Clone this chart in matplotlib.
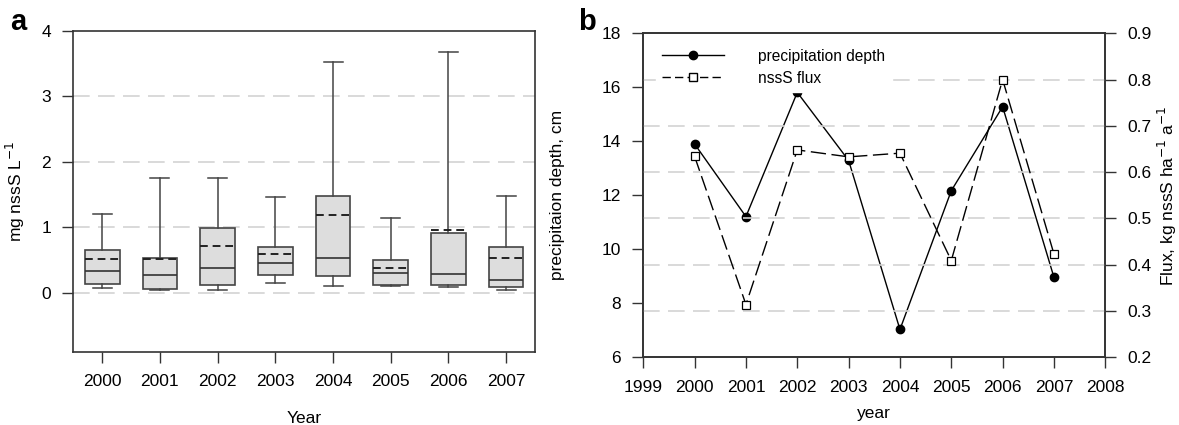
import matplotlib
matplotlib.use("Agg")
import matplotlib.pyplot as plt
from matplotlib.lines import Line2D

plt.rcParams['font.family'] = ['Liberation Sans', 'DejaVu Sans']

# panel a: box plot stats (mg nssS / L)
years = [2000, 2001, 2002, 2003, 2004, 2005, 2006, 2007]
whis_lo = [0.072, 0.046, 0.036, 0.143, 0.098, 0.098, 0.082, 0.041]
q1 = [0.128, 0.061, 0.122, 0.265, 0.260, 0.122, 0.113, 0.092]
medians = [0.331, 0.275, 0.382, 0.458, 0.525, 0.296, 0.290, 0.190]
means = [0.515, 0.510, 0.713, 0.591, 1.186, 0.382, 0.962, 0.525]
q3 = [0.657, 0.530, 0.983, 0.698, 1.481, 0.494, 0.916, 0.693]
whis_hi = [1.206, 1.751, 1.755, 1.466, 3.520, 1.145, 3.675, 1.476]

# panel b
years_b = [2000, 2001, 2002, 2003, 2004, 2005, 2006, 2007]
precip = [13.90, 11.21, 15.81, 13.29, 7.03, 12.17, 15.28, 8.96]
flux = [0.634, 0.314, 0.648, 0.633, 0.641, 0.409, 0.800, 0.423]

fig = plt.figure(figsize=(11.79, 4.25), dpi=100)
axcol = '#333333'
fs = 12.5

# ---- panel a ----
ax = fig.add_axes([0.0622, 0.1725, 0.3916, 0.7553])
stats = []
for i in range(len(years)):
    stats.append(dict(med=medians[i], q1=q1[i], q3=q3[i], whislo=whis_lo[i],
                      whishi=whis_hi[i], mean=means[i], fliers=[]))
ax.bxp(stats, positions=years, widths=0.6, patch_artist=True,
       showmeans=True, meanline=True, manage_ticks=False,
       boxprops=dict(facecolor='#dddddd', edgecolor='#444444', linewidth=1.2),
       medianprops=dict(color='#333333', linewidth=1.2),
       meanprops=dict(color='#222222', linestyle=(0, (4, 2.5)), linewidth=1.4),
       whiskerprops=dict(color='#444444', linewidth=1.1),
       capprops=dict(color='#444444', linewidth=1.1), capwidths=0.33)
ax.set_xlim(1999.5, 2007.5)
ax.set_ylim(-0.9, 4)
ax.set_xticks(years)
ax.set_yticks([0, 1, 2, 3, 4])
for g in [0, 1, 2, 3]:
    ax.axhline(g, color='#d3d3d3', linewidth=1.2, linestyle=(0, (10, 5)), zorder=0)
ax.tick_params(direction='out', length=8, width=1, colors=axcol, labelsize=fs,
               labelcolor='black', pad=8)
for s in ax.spines.values():
    s.set_color(axcol)
    s.set_linewidth(1.2)
ax.set_xlabel('Year', fontsize=fs)
ax.set_ylabel('mg nssS L$^{-1}$', fontsize=fs)
ax.xaxis.set_label_coords(0.5, -0.185)
ax.yaxis.set_label_coords(-0.10, 0.5)
fig.text(0.009, 0.93, 'a', fontsize=21, fontweight='bold')

# ---- panel b ----
bx = fig.add_axes([0.5456, 0.1593, 0.3919, 0.7624])
bx2 = bx.twinx()
bx2.set_ylim(0.2, 0.9)
bx2.set_yticks([0.2, 0.3, 0.4, 0.5, 0.6, 0.7, 0.8, 0.9])
for g in [0.3, 0.4, 0.5, 0.6, 0.7, 0.8]:
    bx2.axhline(g, color='#d3d3d3', linewidth=1.2, linestyle=(0, (10, 5)), zorder=0)
bx.plot(years_b, precip, color='black', linewidth=1, marker='o',
        markersize=6, markerfacecolor='black')
bx2.plot(years_b, flux, color='black', linewidth=1, linestyle=(0, (11, 4)),
         marker='s', markersize=5.5, markerfacecolor='white',
         markeredgecolor='black', markeredgewidth=0.9)
bx.set_xlim(1999, 2008)
bx.set_ylim(6, 18)
bx.set_xticks(range(1999, 2009))
bx.set_yticks([6, 8, 10, 12, 14, 16, 18])
for a in (bx, bx2):
    a.tick_params(direction='out', length=8, width=1, colors=axcol,
                  labelsize=fs, labelcolor='black', pad=8)
    for s in a.spines.values():
        s.set_color(axcol)
        s.set_linewidth(1.2)
bx.set_xlabel('year', fontsize=fs)
bx.set_ylabel('precipitaion depth, cm', fontsize=fs)
bx2.set_ylabel('Flux, kg nssS ha$^{-1}$ a$^{-1}$', fontsize=fs)
bx.xaxis.set_label_coords(0.5, -0.15)
bx.yaxis.set_label_coords(-0.17, 0.5)
bx2.yaxis.set_label_coords(1.11, 0.5)

handles = [Line2D([], [], color='black', linewidth=1, marker='o', markersize=6),
           Line2D([], [], color='black', linewidth=1, linestyle=(0, (6, 3)),
                  marker='s', markersize=5.5, markerfacecolor='white')]
leg = bx2.legend(handles, ['precipitation depth', 'nssS flux'], loc='upper left',
                 bbox_to_anchor=(0.01, 0.995), frameon=True, fontsize=11.2,
                 handlelength=4, handletextpad=2.2, borderpad=0.4,
                 labelspacing=0.45)
leg.get_frame().set_edgecolor('white')
leg.get_frame().set_facecolor('white')
leg.get_frame().set_alpha(1)
fig.text(0.49, 0.93, 'b', fontsize=21, fontweight='bold')

fig.savefig('out.png', dpi=100)
